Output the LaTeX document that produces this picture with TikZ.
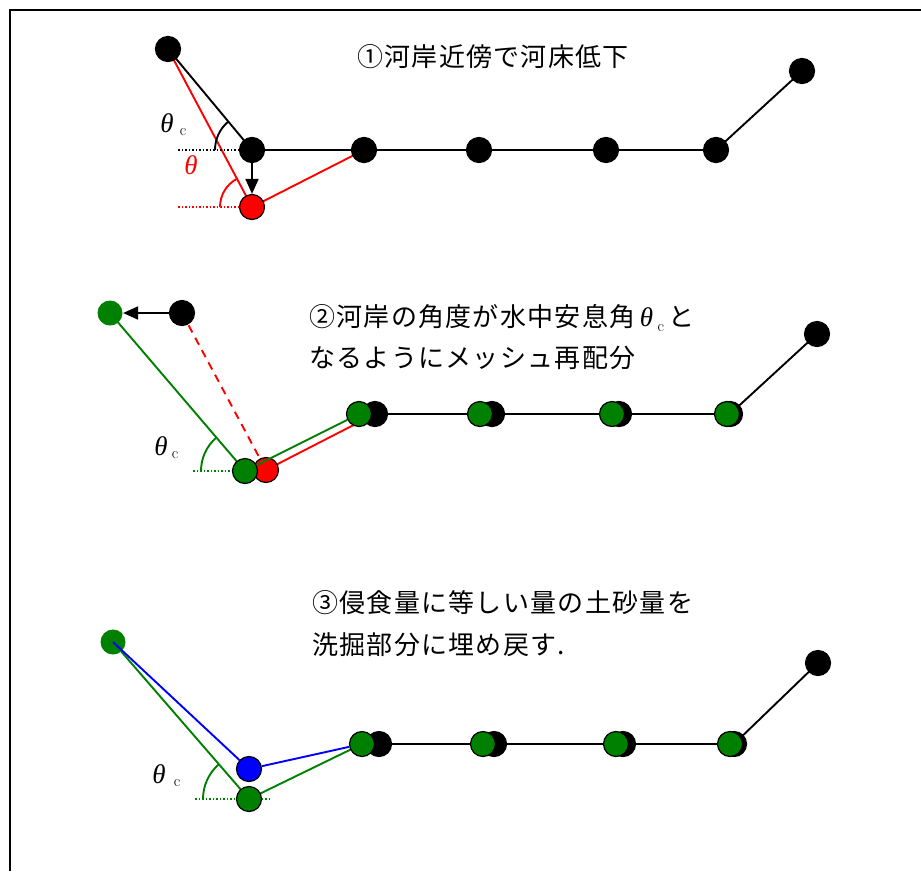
\documentclass[tikz,border=0pt]{standalone}
\usepackage{fontspec}
\newfontfamily\jp{Noto Sans CJK JP}[LetterSpace=5]
\newfontfamily\grk{Liberation Serif}
\usetikzlibrary{arrows.meta}
\pgfdeclarelayer{bg}
\pgfsetlayers{bg,main}
\definecolor{dg}{RGB}{0,128,0}
\newcommand{\thetc}{{\grk\itshape θ}}
\begin{document}
\begin{tikzpicture}[x=1pt,y=-1pt,
  dot/.style={circle,minimum size=25pt,inner sep=0pt,line width=1.2pt,draw=black},
  bk/.style={dot,fill=black},
  gr/.style={dot,fill=dg},
  grn/.style={dot,fill=dg,draw=none},
  rd/.style={dot,fill=red},
  bl/.style={dot,fill=blue},
  ln/.style={line width=1.9pt},
  dt/.style={line width=1.5pt,dotted},
  tip/.style={line width=1.9pt,-{Triangle[length=15pt,width=13pt]}},
  lbl/.style={anchor=west,inner sep=0pt,font=\jp\fontsize{26}{26}\selectfont},
  th/.style={inner sep=0pt,font=\fontsize{27}{27}\selectfont},
  sc/.style={inner sep=0pt,font=\fontsize{16}{16}\selectfont},
]
\useasboundingbox (0,0) rectangle (921,871);
\draw[line width=1.8pt] (10,871) -- (10,10) -- (921,10);

% ---------- panel 1 ----------
\node[bk] (a1) at (168,49) {};
\node[bk] (a2) at (252,150) {};
\node[bk] (a3) at (364,150) {};
\node[bk] (a4) at (479,150) {};
\node[bk] (a5) at (606,150) {};
\node[bk] (a6) at (716,150) {};
\node[bk] (a7) at (802,71) {};
\node[rd] (ar) at (252,207) {};
\coordinate (ad1) at (178,150);
\coordinate (ad2) at (178,207);
\begin{pgfonlayer}{bg}
\draw[ln] (a1.center) -- (a2.center) -- (a3.center) -- (a4.center) -- (a5.center) -- (a6.center) -- (a7.center);
\draw[ln,red] (a1.center) -- (ar.center) -- (a3.center);
\draw[dt] (ad1) -- (a2.center);
\draw[dt,red] (ad2) -- (ar.center);
\end{pgfonlayer}
\draw[tip] (a2) -- (ar);
\draw[ln] ([shift={(180:37)}]a2.center) arc[start angle=180,end angle=230,radius=37];
\draw[ln,red] ([shift={(180:32)}]ar.center) arc[start angle=180,end angle=242,radius=32];
\node[th] (t1) at (167,123) {\thetc};
\node[sc] (t1c) at (183,132) {c};
\node[th,text=red] (t1r) at (191,165) {\thetc};
\node[lbl] (txt1) at (357,57) {①河岸近傍で河床低下};

% ---------- panel 2 ----------
\node[bk] (b0) at (182,313) {};
\node[grn] (bg1) at (110,313) {};
\node[rd] (br) at (266,470) {};
\node[gr] (bg2) at (245,471) {};
\node[bk] (b1) at (375,414) {};
\node[bk] (b2) at (492,414) {};
\node[bk] (b3) at (619,414) {};
\node[bk] (b4) at (730,414) {};
\node[bk] (b5) at (817,334) {};
\node[gr] (g1) at (359,414) {};
\node[gr] (g2) at (480,414) {};
\node[gr] (g3) at (612,414) {};
\node[gr] (g4) at (727,414) {};
\coordinate (bd) at (193,471);
\begin{pgfonlayer}{bg}
\draw[ln] (b1.center) -- (b2.center) -- (b3.center) -- (b4.center) -- (b5.center);
\draw[ln,red] (br.center) -- (b1.center);
\draw[ln,red,dash pattern=on 8pt off 6pt] (b0.center) -- (br.center);
\draw[ln,dg] (bg1.center) -- (bg2.center);
\draw[dt,dg] (bd) -- (bg2.center);
\end{pgfonlayer}
\draw[ln,dg] (bg2) -- (g1);
\draw[tip] (b0) -- (bg1);
\draw[ln,dg] ([shift={(180:44)}]bg2.center) arc[start angle=180,end angle=229,radius=44];
\node[th] (t2) at (161,446) {\thetc};
\node[sc] (t2c) at (175,455) {c};
\node[lbl] (txt2a) at (309,318) {②河岸の角度が水中安息角\,{\fontsize{27}{27}\selectfont\thetc\,\raisebox{-5pt}{\normalfont\fontsize{16}{16}\selectfont c}}\,と};
\node[lbl] (txt2b) at (309,358) {なるようにメッシュ再配分};

% ---------- panel 3 ----------
\node[bk] (c1) at (379,744) {};
\node[bk] (c2) at (494,744) {};
\node[bk] (c3) at (623,744) {};
\node[bk] (c4) at (734,744) {};
\node[bk] (c5) at (818,663) {};
\node[gr] (h1) at (362,744) {};
\node[gr] (h2) at (483,744) {};
\node[gr] (h3) at (616,744) {};
\node[gr] (h4) at (730,744) {};
\node[grn] (c0) at (113,642) {};
\node[bl] (cb) at (249,769) {};
\node[gr] (cg) at (249,799) {};
\coordinate (cd1) at (195,799);
\coordinate (cd2) at (271,799);
\begin{pgfonlayer}{bg}
\draw[ln] (c1.center) -- (c2.center) -- (c3.center) -- (c4.center) -- (c5.center);
\draw[ln,dg] (c0.center) -- (cg.center) -- (h1.center);
\draw[dt,dg] (cd1) -- (cd2);
\end{pgfonlayer}
\draw[ln,blue] (c0.center) -- (cb);
\draw[ln,blue] (cb) -- (h1);
\draw[ln,dg] ([shift={(180:46)}]cg.center) arc[start angle=180,end angle=229,radius=46];
\node[th] (t3) at (159,774) {\thetc};
\node[sc] (t3c) at (177,783) {c};
\node[lbl] (txt3a) at (312,603) {③侵食量に等しい量の土砂量を};
\node[lbl] (txt3b) at (312,645) {洗掘部分に埋め戻す.};
\end{tikzpicture}
\end{document}
